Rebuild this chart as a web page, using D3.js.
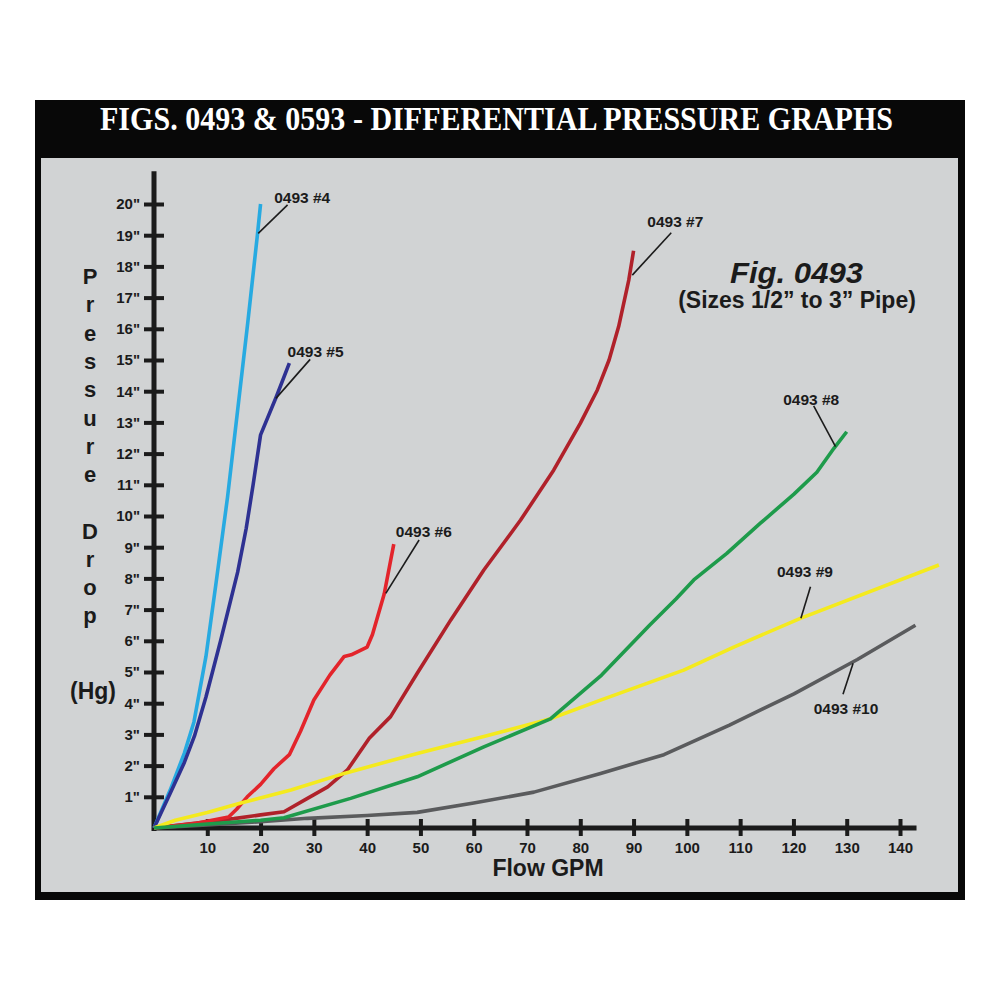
<!DOCTYPE html>
<html>
<head>
<meta charset="utf-8">
<script src="https://cdn.jsdelivr.net/npm/d3@7"></script>
<style>
  body { margin: 0; background: #fff; }
  svg { display: block; }
</style>
</head>
<body>
<div id="chart"></div>
<script>
'use strict';

// Flow (GPM) vs pressure drop (inches Hg)
const size4 = [[0, 0], [3, 1.2], [5.7, 2.4], [7.5, 3.4], [9.75, 5.5], [11.6, 7.8], [13.8, 10.6], [15.7, 13.4], [17.6, 16.2], [19.4, 19.0], [20, 20]];
const size5 = [[0, 0], [3, 1.1], [5.7, 2.1], [7.6, 2.95], [9.75, 4.2], [12.5, 6.0], [15.7, 8.2], [17.3, 9.6], [18.6, 11.0], [20, 12.6], [22.9, 13.8], [25.4, 14.9]];
const size6 = [[0, 0], [8, 0.15], [14, 0.35], [15.5, 0.6], [17.5, 1.0], [20, 1.4], [22.5, 1.9], [25.4, 2.35], [27.5, 3.1], [30, 4.1], [33, 4.9], [35.7, 5.5], [37, 5.55], [40, 5.8], [41, 6.2], [43.2, 7.5], [45, 9.1]];
const size7 = [[0, 0], [10, 0.2], [15, 0.3], [20, 0.42], [24.4, 0.52], [28.8, 0.95], [32.6, 1.32], [36.3, 1.86], [40.4, 2.88], [44.4, 3.57], [49.4, 4.96], [55.7, 6.67], [61.9, 8.27], [68.8, 9.87], [75, 11.47], [80, 12.97], [83.2, 14.04], [85.4, 15.0], [87.2, 16.07], [89.1, 17.56], [90, 18.5]];
const size8 = [[0, 0], [10, 0.13], [20, 0.25], [24.4, 0.33], [36.9, 0.95], [49.4, 1.64], [61.9, 2.6], [74.4, 3.5], [84, 4.9], [93, 6.5], [98, 7.35], [101.3, 7.95], [107.5, 8.8], [113.8, 9.77], [120.1, 10.7], [124.4, 11.4], [127.6, 12.17], [130, 12.7]];
const size9 = [[0, 0], [4, 0.25], [10, 0.5], [16.3, 0.8], [25.7, 1.22], [35.7, 1.75], [49.4, 2.39], [61.9, 2.93], [74.4, 3.5], [83.8, 4.1], [99.4, 5.06], [108.8, 5.8], [121.3, 6.72], [147.3, 8.43]];
const size10 = [[0, 0], [10, 0.1], [20, 0.2], [28.8, 0.31], [40, 0.4], [49.4, 0.5], [60, 0.8], [71.3, 1.15], [83.8, 1.75], [95.7, 2.35], [108, 3.3], [120.1, 4.3], [132, 5.4], [142.9, 6.5]];

const xTicks = [10, 20, 30, 40, 50, 60, 70, 80, 90, 100, 110, 120, 130, 140];
const yTicks = [1, 2, 3, 4, 5, 6, 7, 8, 9, 10, 11, 12, 13, 14, 15, 16, 17, 18, 19, 20];

const title = 'FIGS. 0493 & 0593 - DIFFERENTIAL PRESSURE GRAPHS';

// drawing order matters a bit where the lines overlap near the origin
const series = [
    { name: '0493 #10', data: size10, color: '#5a5b5d' },
    { name: '0493 #7', data: size7, color: '#b0212a' },
    { name: '0493 #6', data: size6, color: '#e3242b' },
    { name: '0493 #4', data: size4, color: '#27aae1' },
    { name: '0493 #5', data: size5, color: '#2e3192' },
    { name: '0493 #9', data: size9, color: '#f4ea1e' },
    { name: '0493 #8', data: size8, color: '#1e9b4b' }
];

// label text position, leader line start (on curve) and end, in data units
const labels = [
    { text: '0493 #4', at: [22.56, 20.03], from: [19.56, 19.06], to: [25.07, 19.97] },
    { text: '0493 #5', at: [25.07, 15.1], from: [22.88, 13.77], to: [29.3, 15.02] },
    { text: '0493 #6', at: [45.38, 9.33], from: [43.5, 7.52], to: [49.75, 9.23] },
    { text: '0493 #7', at: [92.57, 19.26], from: [89.76, 17.72], to: [97.07, 19.08] },
    { text: '0493 #8', at: [118.07, 13.56], from: [127.9, 12.22], to: [123.8, 13.53] },
    { text: '0493 #9', at: [116.9, 8.04], from: [121.4, 6.72], to: [123.2, 7.73] },
    { text: '0493 #10', at: [123.8, 3.66], from: [131.2, 5.28], to: [129.3, 4.29] }
];

const sans = '"Liberation Sans", Arial, Helvetica, sans-serif';
const ink = '#1b1b1b';

const svg = d3.select('#chart')
    .append('svg')
    .attr('width', 1000)
    .attr('height', 1000);

// Black frame and grey panel
svg.append('rect')
    .attr('x', 35).attr('y', 100)
    .attr('width', 930).attr('height', 800)
    .attr('fill', '#080808');

svg.append('rect')
    .attr('x', 41).attr('y', 158)
    .attr('width', 917).attr('height', 734)
    .attr('fill', '#d1d3d4');

svg.append('text')
    .attr('x', 100).attr('y', 130)
    .attr('fill', '#fff')
    .attr('font-family', '"Liberation Serif", "Times New Roman", serif')
    .attr('font-weight', 'bold')
    .attr('font-size', 33)
    .attr('textLength', 793)
    .attr('lengthAdjust', 'spacingAndGlyphs')
    .text(title);

// Scales
const x = d3.scaleLinear().domain([0, 140]).range([154, 900]);
const y = d3.scaleLinear().domain([0, 20]).range([828, 204]);

// Y axis (ticks cross the line)
const gy = svg.append('g')
    .attr('transform', `translate(${x(0)},0)`)
    .call(d3.axisLeft(y).tickValues(yTicks).tickSize(10).tickPadding(14).tickFormat(d => d + '"'));
gy.select('.domain').remove();
gy.selectAll('.tick line')
    .attr('x2', 10).attr('x1', -10)
    .attr('stroke', ink).attr('stroke-width', 4);
gy.selectAll('.tick text')
    .attr('x', -14)
    .attr('fill', ink)
    .attr('font-family', sans)
    .attr('font-weight', 'bold')
    .attr('font-size', 15);

// X axis
const gx = svg.append('g')
    .attr('transform', `translate(0,${y(0)})`)
    .call(d3.axisBottom(x).tickValues(xTicks).tickSize(8));
gx.select('.domain').remove();
gx.selectAll('.tick line')
    .attr('y1', -9).attr('y2', 8)
    .attr('stroke', ink).attr('stroke-width', 4);
gx.selectAll('.tick text')
    .attr('y', 25).attr('dy', null)
    .attr('fill', ink)
    .attr('font-family', sans)
    .attr('font-weight', 'bold')
    .attr('font-size', 15);

// Axis lines drawn thick on top of the tick marks
svg.append('line')
    .attr('x1', x(0)).attr('x2', x(0))
    .attr('y1', y(21.05)).attr('y2', y(0) + 3)
    .attr('stroke', ink).attr('stroke-width', 5);
svg.append('line')
    .attr('x1', x(0) - 2).attr('x2', x(143.1))
    .attr('y1', y(0)).attr('y2', y(0))
    .attr('stroke', ink).attr('stroke-width', 5);

// Axis titles
svg.append('text')
    .attr('x', 548).attr('y', 876)
    .attr('text-anchor', 'middle')
    .attr('fill', ink)
    .attr('font-family', sans)
    .attr('font-weight', 'bold')
    .attr('font-size', 23)
    .text('Flow GPM');

const yTitle = svg.append('text')
    .attr('fill', ink)
    .attr('font-family', sans)
    .attr('font-weight', 'bold')
    .attr('font-size', 22)
    .attr('text-anchor', 'middle');
'Pressure'.split('').forEach((c, i) => {
    yTitle.append('tspan').attr('x', 90).attr('y', 284 + i * 28.3).text(c);
});
'Drop'.split('').forEach((c, i) => {
    yTitle.append('tspan').attr('x', 90).attr('y', 539 + i * 28).text(c);
});
yTitle.append('tspan').attr('x', 93).attr('y', 699).attr('font-size', 23).text('(Hg)');

// Curves
const lineGen = d3.line()
    .x(d => x(d[0]))
    .y(d => y(d[1]));

svg.append('g')
    .selectAll('path')
    .data(series)
    .join('path')
    .attr('d', d => lineGen(d.data))
    .attr('fill', 'none')
    .attr('stroke', d => d.color)
    .attr('stroke-width', 3.6)
    .attr('stroke-linejoin', 'round');

// Curve labels with leader lines
const lab = svg.append('g');
lab.selectAll('line')
    .data(labels)
    .join('line')
    .attr('x1', d => x(d.from[0])).attr('y1', d => y(d.from[1]))
    .attr('x2', d => x(d.to[0])).attr('y2', d => y(d.to[1]))
    .attr('stroke', ink)
    .attr('stroke-width', 1.6);
lab.selectAll('text')
    .data(labels)
    .join('text')
    .attr('x', d => x(d.at[0])).attr('y', d => y(d.at[1]))
    .attr('fill', ink)
    .attr('font-family', sans)
    .attr('font-weight', 'bold')
    .attr('font-size', 15.5)
    .text(d => d.text);

// Figure caption
svg.append('text')
    .attr('x', 730).attr('y', 283)
    .attr('fill', ink)
    .attr('font-family', sans)
    .attr('font-weight', 'bold')
    .attr('font-style', 'italic')
    .attr('font-size', 29)
    .attr('textLength', 133)
    .attr('lengthAdjust', 'spacingAndGlyphs')
    .text('Fig. 0493');
svg.append('text')
    .attr('x', 797).attr('y', 308)
    .attr('text-anchor', 'middle')
    .attr('fill', ink)
    .attr('font-family', sans)
    .attr('font-weight', 'bold')
    .attr('font-size', 23)
    .text('(Sizes 1/2\u201D to 3\u201D Pipe)');
</script>
</body>
</html>
